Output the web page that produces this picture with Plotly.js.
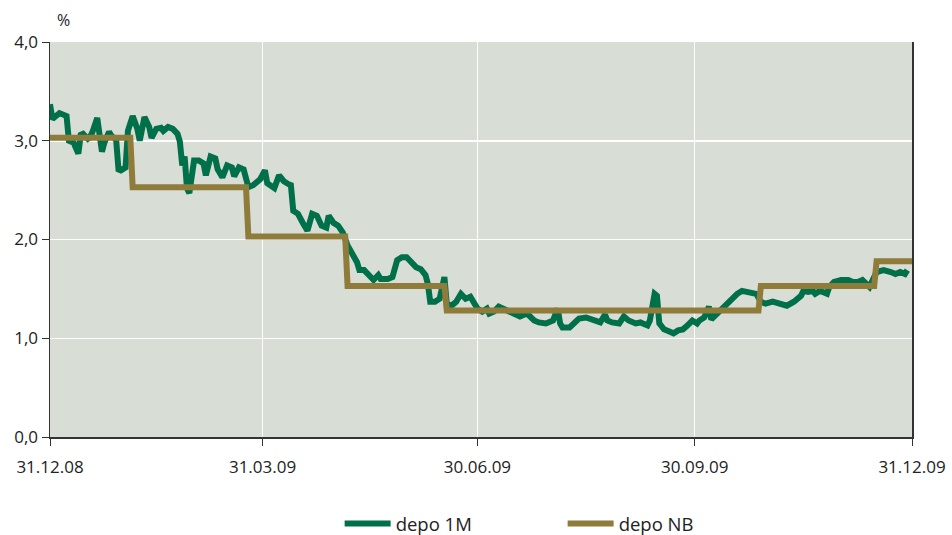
<!DOCTYPE html>
<html>
<head>
<meta charset="utf-8">
<script src="https://cdn.plot.ly/plotly-3.0.1.min.js"></script>
<style>html,body{margin:0;padding:0;background:#fff;}#chart{width:952px;height:535px;}</style>
</head>
<body>
<div id="chart"></div>
<script>
// depo 1M (green)
const depo1MDates = [
"2008-12-31","2009-01-01","2009-01-04","2009-01-06","2009-01-07","2009-01-08","2009-01-10","2009-01-12","2009-01-13","2009-01-14",
"2009-01-16","2009-01-17","2009-01-18","2009-01-20","2009-01-21","2009-01-22","2009-01-23","2009-01-25","2009-01-26","2009-01-28",
"2009-01-29","2009-01-30","2009-02-01","2009-02-02","2009-02-04","2009-02-06","2009-02-07","2009-02-09","2009-02-11","2009-02-12",
"2009-02-14","2009-02-16","2009-02-17","2009-02-19","2009-02-21","2009-02-23","2009-02-24","2009-02-25","2009-02-26","2009-02-27",
"2009-02-28","2009-03-02","2009-03-04","2009-03-06","2009-03-07","2009-03-09","2009-03-11","2009-03-12","2009-03-14","2009-03-16",
"2009-03-18","2009-03-19","2009-03-21","2009-03-23","2009-03-25","2009-03-27","2009-03-30","2009-04-01","2009-04-02","2009-04-05",
"2009-04-07","2009-04-09","2009-04-11","2009-04-12","2009-04-13","2009-04-15","2009-04-17","2009-04-19","2009-04-21","2009-04-23",
"2009-04-25","2009-04-27","2009-04-28","2009-04-30","2009-05-02","2009-05-04","2009-05-06","2009-05-08","2009-05-10","2009-05-11",
"2009-05-13","2009-05-15","2009-05-17","2009-05-19","2009-05-20","2009-05-23","2009-05-25","2009-05-27","2009-05-29","2009-05-31",
"2009-06-02","2009-06-04","2009-06-06","2009-06-08","2009-06-09","2009-06-10","2009-06-12","2009-06-14","2009-06-16","2009-06-17",
"2009-06-19","2009-06-21","2009-06-23","2009-06-25","2009-06-27","2009-06-29","2009-06-30","2009-07-02","2009-07-04","2009-07-05",
"2009-07-07","2009-07-09","2009-07-11","2009-07-13","2009-07-15","2009-07-18","2009-07-21","2009-07-24","2009-07-26","2009-07-29",
"2009-08-01","2009-08-03","2009-08-04","2009-08-05","2009-08-08","2009-08-10","2009-08-12","2009-08-15","2009-08-18","2009-08-21",
"2009-08-23","2009-08-24","2009-08-26","2009-08-29","2009-08-31","2009-09-02","2009-09-05","2009-09-07","2009-09-10","2009-09-11",
"2009-09-13","2009-09-14","2009-09-15","2009-09-17","2009-09-19","2009-09-21","2009-09-23","2009-09-25","2009-09-27","2009-09-29",
"2009-10-01","2009-10-02","2009-10-04","2009-10-06","2009-10-07","2009-10-09","2009-10-12","2009-10-15","2009-10-18","2009-10-20",
"2009-10-22","2009-10-24","2009-10-26","2009-10-28","2009-10-30","2009-11-02","2009-11-05","2009-11-08","2009-11-11","2009-11-14",
"2009-11-15","2009-11-17","2009-11-19","2009-11-20","2009-11-22","2009-11-25","2009-11-26","2009-11-28","2009-12-01","2009-12-04",
"2009-12-06","2009-12-08","2009-12-10","2009-12-12","2009-12-13","2009-12-16","2009-12-19","2009-12-22","2009-12-24","2009-12-26",
"2009-12-28","2009-12-29"
];
const depo1MValues = [
3.37,3.22,3.28,3.27,3.25,3.00,2.98,2.87,3.06,3.07,
3.02,3.04,3.09,3.23,3.07,2.89,2.98,3.09,3.05,3.01,
2.71,2.70,2.73,3.10,3.25,3.12,3.00,3.24,3.14,3.03,
3.12,3.13,3.10,3.14,3.12,3.07,2.99,2.75,2.84,2.52,
2.47,2.80,2.80,2.77,2.65,2.84,2.82,2.71,2.63,2.75,
2.73,2.64,2.73,2.71,2.53,2.55,2.61,2.70,2.57,2.52,
2.65,2.59,2.56,2.55,2.29,2.26,2.17,2.09,2.26,2.24,
2.14,2.12,2.24,2.17,2.14,2.07,1.94,1.86,1.77,1.69,
1.69,1.64,1.59,1.64,1.60,1.60,1.62,1.79,1.82,1.82,
1.77,1.72,1.70,1.64,1.55,1.37,1.37,1.40,1.62,1.35,
1.33,1.37,1.45,1.40,1.42,1.35,1.30,1.27,1.30,1.25,
1.27,1.32,1.30,1.27,1.25,1.22,1.25,1.18,1.16,1.15,
1.18,1.30,1.15,1.11,1.11,1.16,1.20,1.21,1.19,1.16,
1.24,1.18,1.16,1.15,1.22,1.18,1.15,1.16,1.13,1.18,
1.45,1.43,1.15,1.09,1.07,1.05,1.08,1.09,1.13,1.18,
1.15,1.18,1.21,1.32,1.19,1.24,1.30,1.38,1.45,1.48,
1.47,1.47,1.45,1.37,1.35,1.37,1.35,1.33,1.37,1.43,
1.48,1.47,1.48,1.45,1.48,1.45,1.52,1.57,1.59,1.59,
1.57,1.57,1.59,1.55,1.52,1.67,1.69,1.67,1.65,1.67,
1.65,1.69
];
// depo NB (gold step line)
const depoNBDates = ["2008-12-31","2009-02-03","2009-02-04","2009-03-24","2009-03-25","2009-05-05","2009-05-06","2009-06-16","2009-06-17","2009-10-27","2009-10-28","2009-12-15","2009-12-16","2009-12-31"];
const depoNBValues = [3.03,3.03,2.53,2.53,2.03,2.03,1.53,1.53,1.28,1.28,1.53,1.53,1.78,1.78];

const xTickVals = ["2008-12-31","2009-03-31","2009-06-30","2009-09-30","2009-12-31"];
const xTickText = ["31.12.08","31.03.09","30.06.09","30.09.09","31.12.09"];
const yTickVals = [0,1,2,3,4];
const yTickText = ["0,0","1,0","2,0","3,0","4,0"];

const FONT = "Open Sans, sans-serif";
const traces = [
  {x: depo1MDates, y: depo1MValues, type: "scatter", mode: "lines", name: "depo 1M",
   line: {color: "#00704a", width: 6}},
  {x: depoNBDates, y: depoNBValues, type: "scatter", mode: "lines", name: "depo NB",
   line: {color: "#8f7b3a", width: 6}}
];
const layout = {
  width: 952, height: 535,
  margin: {l: 50, r: 40, t: 42, b: 98, autoexpand: false},
  paper_bgcolor: "#ffffff",
  plot_bgcolor: "#d8ddd6",
  font: {family: FONT, size: 17, color: "#222"},
  showlegend: true,
  legend: {orientation: "h", x: 0.336, xanchor: "left", y: -0.172, yanchor: "top",
           itemwidth: 46, entrywidth: 162, entrywidthmode: "pixels",
           font: {size: 18.5, color: "#222"}},
  xaxis: {type: "date", range: ["2008-12-31", "2009-12-31"],
          tickmode: "array", tickvals: xTickVals, ticktext: xTickText,
          showgrid: true, gridcolor: "#ffffff", gridwidth: 1.5,
          showline: true, linecolor: "#333", linewidth: 1.5,
          ticks: "outside", ticklen: 7, tickcolor: "#333", tickwidth: 1,
          ticklabelstandoff: 7, zeroline: false, fixedrange: true},
  yaxis: {range: [0, 4], tickmode: "array", tickvals: yTickVals, ticktext: yTickText,
          showgrid: true, gridcolor: "#ffffff", gridwidth: 1.5,
          showline: true, linecolor: "#333", linewidth: 1.5, mirror: true,
          ticks: "outside", ticklen: 7, tickcolor: "#333", tickwidth: 1,
          zeroline: false, fixedrange: true},
  annotations: [{text: "%", xref: "paper", yref: "paper", x: 0.016, y: 1.056,
                 xanchor: "center", yanchor: "middle", showarrow: false,
                 font: {size: 16, color: "#222"}}]
};
Plotly.newPlot("chart", traces, layout, {displayModeBar: false, staticPlot: true});
</script>
</body>
</html>
